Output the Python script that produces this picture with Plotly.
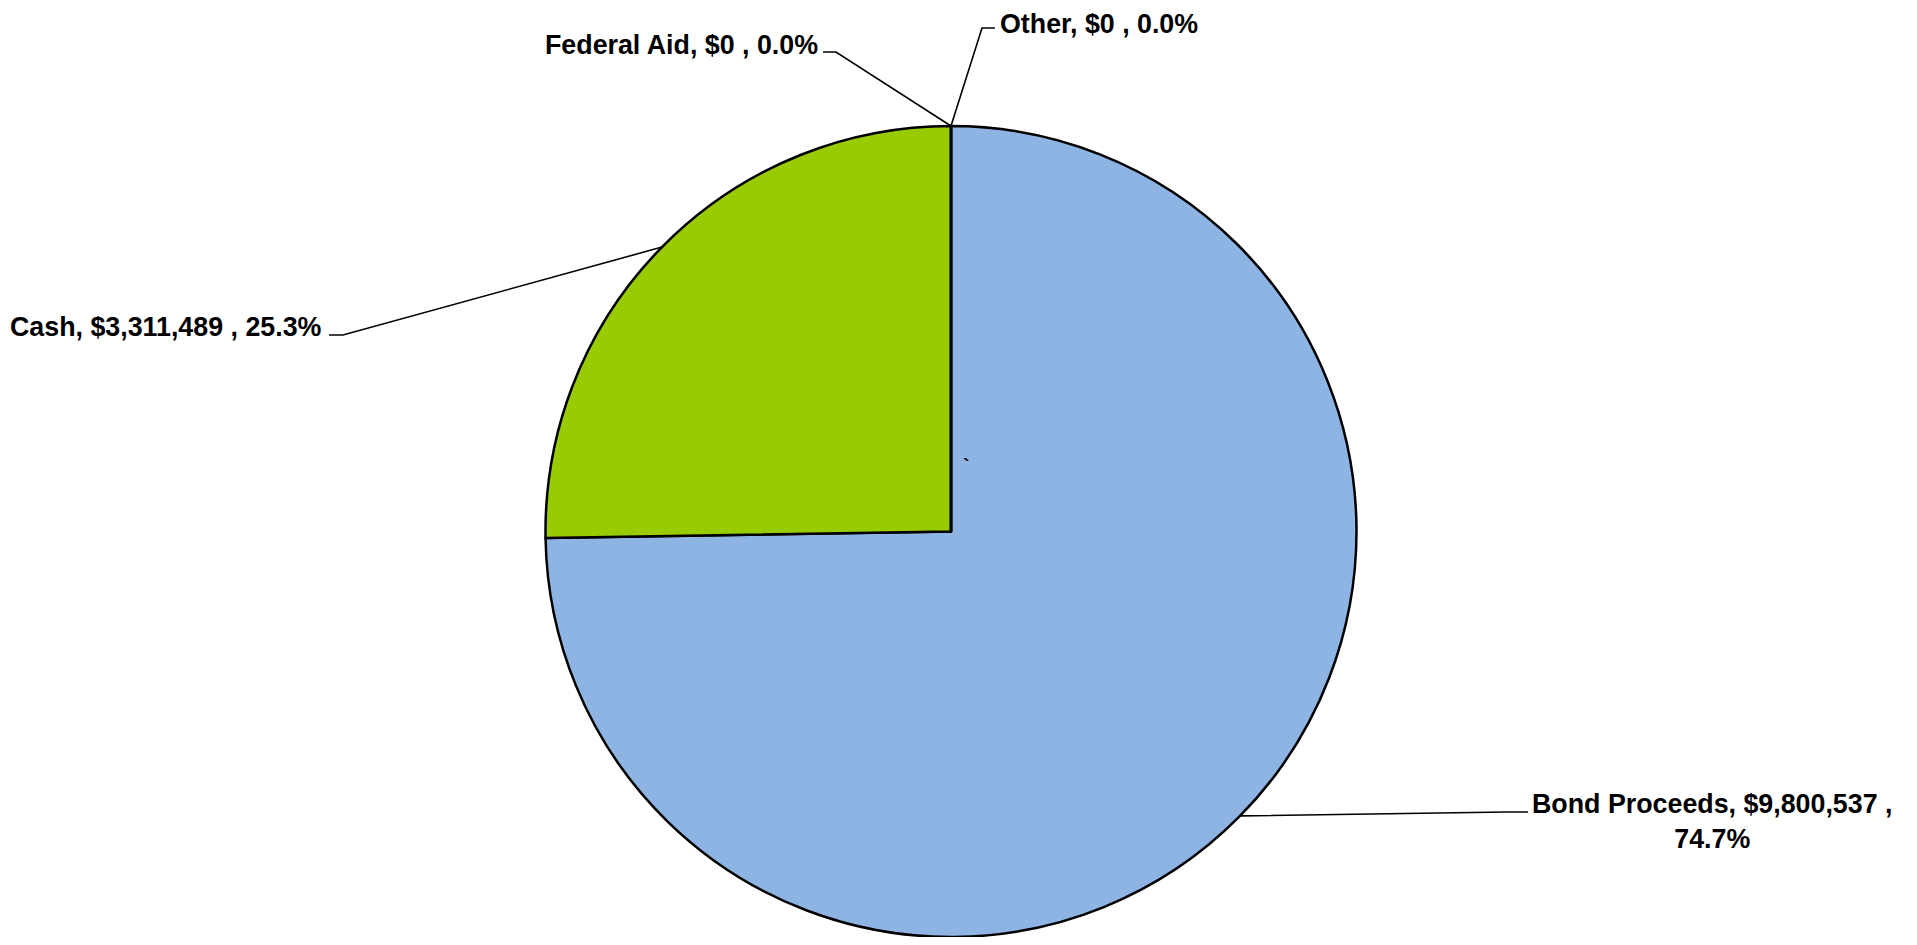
import math
import plotly.graph_objects as go

# ---- data ----
categories = ["Bond Proceeds", "Cash", "Federal Aid", "Other"]
amounts = [9800537, 3311489, 0, 0]
colors = ["#8EB4E3", "#99CC00", "#FFC000", "#993366"]

# ---- layout (page pixels; the page body adds an 8px margin) ----
OFF = 8
W, H = 1917 - 2 * OFF, 945 - 2 * OFF
R = (H - (126 - OFF)) / 2          # pie top at page y=126, bottom at figure edge
cx, cy = 951 - OFF, 126 - OFF + R  # figure pixels

# label placement in page pixels: (text x, text y, xanchor, elbow point, segment end)
label_pos = {
    "Bond Proceeds": (1712, 821, "center", (1506, 812), (1528, 812)),
    "Cash": (323, 327, "right", (343, 335), (329, 335)),
    "Federal Aid": (819, 45, "right", (836, 52), (823, 52)),
    "Other": (999, 24, "left", (982, 28), (995, 28)),
}

FONT = dict(family="Liberation Sans, Arial, sans-serif", size=26.8, color="#000000", weight="bold")


def px(x):
    return x / W


def py(y):
    return 1 - y / H


total = sum(amounts)

fig = go.Figure()
fig.add_trace(go.Pie(
    labels=categories,
    values=amounts,
    sort=False,
    direction="clockwise",
    rotation=0,
    textinfo="none",
    marker=dict(colors=colors, line=dict(color="#000000", width=2.5)),
    domain=dict(x=[0, 2 * cx / W], y=[0, py(cy - R)]),
    showlegend=False,
    hovertemplate="%{label}: $%{value:,.0f} (%{percent})<extra></extra>",
))

annotations = []
shapes = []
cum = 0.0
for cat, val in zip(categories, amounts):
    frac = val / total
    ang = math.radians(90 - 360 * (cum + frac / 2))
    cum += frac
    ex, ey = cx + R * math.cos(ang), cy - R * math.sin(ang)
    tx, ty, xa, (bx, by), (sx, sy) = label_pos[cat]
    tx, ty, bx, by, sx, sy = (v - OFF for v in (tx, ty, bx, by, sx, sy))
    text = f"{cat}, ${val:,.0f} , {frac * 100:.1f}%"
    if cat == "Bond Proceeds":
        text = f"{cat}, ${val:,.0f} ,<br>{frac * 100:.1f}%"
    annotations.append(dict(
        x=px(tx), y=py(ty), xref="paper", yref="paper",
        text=text, showarrow=False, xanchor=xa, yanchor="middle",
        align="center", font=FONT, borderpad=0,
    ))
    shapes.append(dict(
        type="path", xref="paper", yref="paper",
        path=f"M {px(ex)},{py(ey)} L {px(bx)},{py(by)} L {px(sx)},{py(sy)}",
        line=dict(color="#000000", width=1.6),
    ))

# stray mark present in the original chart
annotations.append(dict(
    x=px(966 - OFF), y=py(466 - OFF), xref="paper", yref="paper", text="`",
    showarrow=False, font=dict(family="Liberation Sans, Arial", size=20, color="#000000", weight="bold"),
))

fig.update_layout(
    width=W, height=H,
    margin=dict(l=0, r=0, t=0, b=0),
    paper_bgcolor="#FFFFFF",
    plot_bgcolor="#FFFFFF",
    annotations=annotations,
    shapes=shapes,
)

fig.write_html("out.html")
